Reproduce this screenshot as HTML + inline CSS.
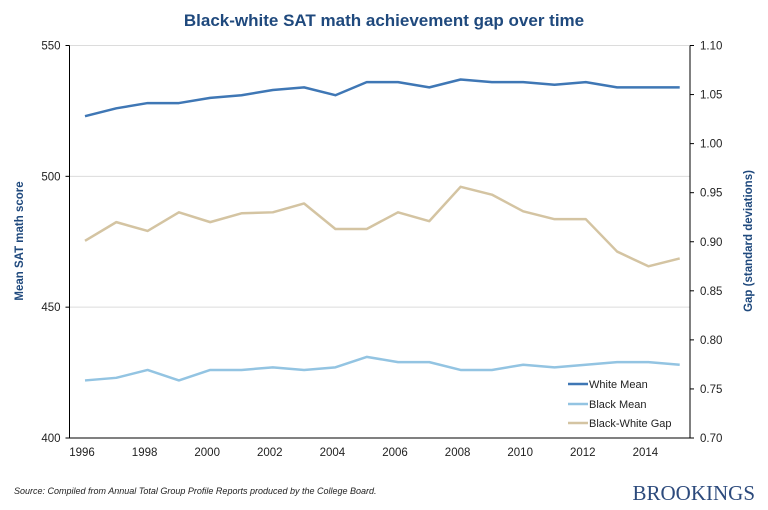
<!DOCTYPE html>
<html><head><meta charset="utf-8"><style>
body{margin:0;background:#fff;font-family:"Liberation Sans",Arial,sans-serif}
svg text{font-family:"Liberation Sans",Arial,sans-serif}
</style></head><body>
<svg id="c" width="768" height="505">
<text x="384" y="26" text-anchor="middle" font-size="17" font-weight="bold" fill="#1f497d">Black-white SAT math achievement gap over time</text>
<g id="grid"></g><g id="axes"></g><g id="series"></g>
<text transform="translate(23,241) rotate(-90)" text-anchor="middle" font-size="11.5" font-weight="bold" fill="#1f497d">Mean SAT math score</text>
<text transform="translate(752,241) rotate(-90)" text-anchor="middle" font-size="11.5" font-weight="bold" fill="#1f497d">Gap (standard deviations)</text>
<g>
<line x1="568" y1="384" x2="588" y2="384" stroke="#3f77b5" stroke-width="2.5"/>
<text x="589" y="388" font-size="11" fill="#222">White Mean</text>
<line x1="568" y1="404" x2="588" y2="404" stroke="#93c4e2" stroke-width="2.5"/>
<text x="589" y="408" font-size="11" fill="#222">Black Mean</text>
<line x1="568" y1="423" x2="588" y2="423" stroke="#d4c4a2" stroke-width="2.5"/>
<text x="589" y="427" font-size="11" fill="#222">Black-White Gap</text>
</g>
<text x="14" y="494" font-size="9" font-style="italic" fill="#222">Source: Compiled from Annual Total Group Profile Reports produced by the College Board.</text>
<text x="755" y="500" text-anchor="end" font-family="Liberation Serif,serif" font-size="21" fill="#2c4a7c" style="font-family:'Liberation Serif',serif">BROOKINGS</text>
</svg>
<script>
const years=[1996,1997,1998,1999,2000,2001,2002,2003,2004,2005,2006,2007,2008,2009,2010,2011,2012,2013,2014,2015];
const whiteMean=[523,526,528,528,530,531,533,534,531,536,536,534,537,536,536,535,536,534,534,534];
const blackMean=[422,423,426,422,426,426,427,426,427,431,429,429,426,426,428,427,428,429,429,428];
const gap=[0.901,0.920,0.911,0.930,0.920,0.929,0.930,0.939,0.913,0.913,0.930,0.921,0.956,0.948,0.931,0.923,0.923,0.890,0.875,0.883];
const leftTicks=[400,450,500,550];
const rightTicks=[0.70,0.75,0.80,0.85,0.90,0.95,1.00,1.05,1.10];
const xTicks=[1996,1998,2000,2002,2004,2006,2008,2010,2012,2014];
const NS="http://www.w3.org/2000/svg";
const L=69.5,R=690,T=45.5,B=438;
const x=y=>85+(y-1996)*31.3;
const yl=v=>B-(v-400)/150*(B-T);
const yr=v=>B-(v-0.7)/0.4*(B-T);
function mk(p,t,a){const e=document.createElementNS(NS,t);for(const k in a)e.setAttribute(k,a[k]);document.getElementById(p).appendChild(e);return e;}
leftTicks.forEach(v=>{
 const g=mk('grid','line',{x1:L,x2:R,y1:yl(v),y2:yl(v),stroke:'#dcdcdc'});
 
 
 const t=mk('axes','text',{x:L-9,y:yl(v)+4,'text-anchor':'end','font-size':11.5,fill:'#222'});t.textContent=v;
 
 
 mk('axes','line',{x1:L-4,x2:L,y1:yl(v),y2:yl(v),stroke:'#000'});
});
rightTicks.forEach(v=>{
 const t=mk('axes','text',{x:R+10,y:yr(v)+4,'font-size':11.5,fill:'#222'});t.textContent=v.toFixed(2);
 
 
 mk('axes','line',{x1:R,x2:R+4,y1:yr(v),y2:yr(v),stroke:'#000'});
});
xTicks.forEach(v=>{
 const t=mk('axes','text',{x:x(v)-3,y:B+18,'text-anchor':'middle','font-size':11.5,fill:'#222'});t.textContent=v;
 
 
});
[[L,T,L,B],[R,T,R,B],[L,B,R,B]].forEach(a=>{const e=mk('axes','line',{x1:a[0],y1:a[1],x2:a[2],y2:a[3],stroke:'#000'});
 
 });
function line(d,f,c,n){const p=mk('series','polyline',{points:d.map((v,i)=>x(years[i])+','+f(v)).join(' '),fill:'none',stroke:c,'stroke-width':2.5,'stroke-linejoin':'round'});
 
 }
line(gap,yr,'#d4c4a2','gap-line');
line(blackMean,yl,'#93c4e2','black-mean-line');
line(whiteMean,yl,'#3f77b5','white-mean-line');
</script>
</body></html>
